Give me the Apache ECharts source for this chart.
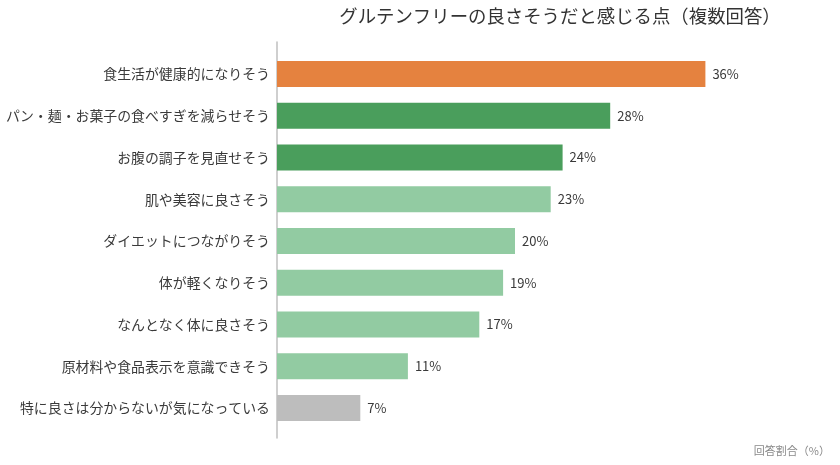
<!DOCTYPE html>
<html><head><meta charset="utf-8">
<script src="https://cdn.jsdelivr.net/npm/echarts@6/dist/echarts.min.js"></script>
<style>html,body{margin:0;padding:0;background:#fff}#c{width:840px;height:465px}</style>
</head><body><div id="c"></div>
<script>
const categories = [
  "食生活が健康的になりそう",
  "パン・麺・お菓子の食べすぎを減らせそう",
  "お腹の調子を見直せそう",
  "肌や美容に良さそう",
  "ダイエットにつながりそう",
  "体が軽くなりそう",
  "なんとなく体に良さそう",
  "原材料や食品表示を意識できそう",
  "特に良さは分からないが気になっている"
];
const values = [36, 28, 24, 23, 20, 19, 17, 11, 7];
const barColors = ["#E5823F","#4A9E5C","#4A9E5C","#92CBA2","#92CBA2","#92CBA2","#92CBA2","#92CBA2","#BDBDBD"];
const titleText = "グルテンフリーの良さそうだと感じる点（複数回答）";
const axisNote = "回答割合（%）";

const font = '"Noto Sans CJK JP", "Noto Sans", sans-serif';
const chart = echarts.init(document.getElementById('c'));
chart.setOption({
  animation: false,
  title: {
    text: titleText, left: 555, top: 2, textAlign: 'center',
    textStyle: {fontFamily: font, fontSize: 18.4, fontWeight: 'normal', color: '#333'}
  },
  graphic: [{
    type: 'text', right: 10, top: 445,
    style: {text: axisNote, font: '11px ' + font, fill: '#8a8a8a'}
  }],
  grid: [
    {left: 277, right: 87, top: 53, bottom: 36},
    {left: 277, right: 87, top: 42, bottom: 27}
  ],
  xAxis: [
    {gridIndex: 0, type: 'value', min: 0, max: 40, show: false},
    {gridIndex: 1, type: 'value', min: 0, max: 40, show: false}
  ],
  yAxis: [
    {
      gridIndex: 0, type: 'category', data: categories, inverse: true,
      axisLine: {show: false}, axisTick: {show: false},
      axisLabel: {fontFamily: font, fontSize: 13.9, color: '#3a3a3a', margin: 7}
    },
    {
      gridIndex: 1, type: 'value', min: 0, max: 1,
      axisLine: {show: true, lineStyle: {color: '#bfbfbf', width: 1.5}},
      axisTick: {show: false}, axisLabel: {show: false}, splitLine: {show: false}
    }
  ],
  series: [{
    type: 'bar', xAxisIndex: 0, yAxisIndex: 0,
    barWidth: 26,
    data: values.map((v, i) => ({value: v, itemStyle: {color: barColors[i]}})),
    label: {
      show: true, position: 'right', distance: 7,
      formatter: '{c}%', fontFamily: font, fontSize: 13, color: '#3a3a3a'
    }
  }]
});
</script></body></html>
